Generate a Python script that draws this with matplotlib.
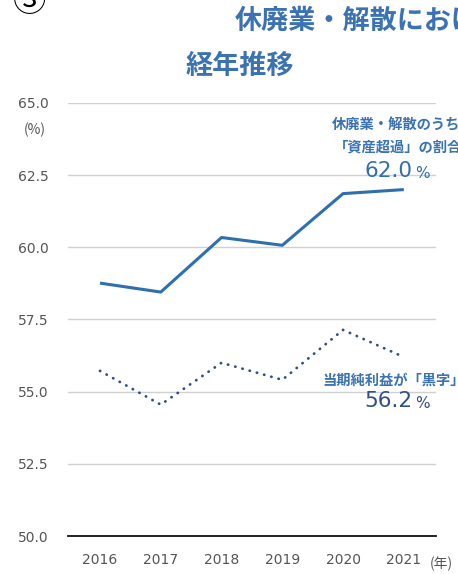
import matplotlib
matplotlib.use("Agg")
from matplotlib import pyplot as plt

plt.rcParams['font.family'] = ['Noto Sans CJK JP', 'DejaVu Sans']

years = [2016, 2017, 2018, 2019, 2020, 2021]
asset_surplus = [58.76, 58.45, 60.34, 60.07, 61.86, 62.0]
profit_black = [55.72, 54.55, 56.0, 55.41, 57.14, 56.2]
yticks = [50.0, 52.5, 55.0, 57.5, 60.0, 62.5, 65.0]

blue = '#2e6fb0'
navy = '#2f4f8a'
label_blue = '#3a72b4'

fig = plt.figure(figsize=(4.58, 5.74), dpi=100)
ax = fig.add_axes([0.148, 0.0662, 0.804, 0.7544])

ax.plot(years, asset_surplus, color=blue, lw=2.2, solid_capstyle='butt')
ax.plot(years, profit_black, color=navy, lw=2.0, linestyle=(0, (0.1, 2.6)),
        dash_capstyle='round')

ax.set_ylim(50, 65)
ax.set_xlim(2015.47, 2021.53)
ax.set_yticks(yticks)
ax.set_yticklabels([f'{v:.1f}' for v in yticks])
ax.set_xticks(years)
ax.set_xticklabels([str(y) for y in years])
ax.grid(axis='y', color='#d0d0d0', lw=1)
ax.set_axisbelow(True)
for s in ['top', 'right', 'left']:
    ax.spines[s].set_visible(False)
ax.spines['bottom'].set_color('#111111')
ax.spines['bottom'].set_linewidth(1.3)
ax.tick_params(length=0, labelsize=10, colors='#555555')
ax.tick_params(axis='y', pad=14)
ax.tick_params(axis='x', pad=12)
for t in ax.get_xticklabels() + ax.get_yticklabels():
    t.set_family('DejaVu Sans')

# titles (cut off at the right edge, as in the original)
fig.text(235 / 458, 1 - 20 / 574, '休廃業・解散における「資産超過」', color=label_blue,
         fontsize=19.5, fontweight='bold', va='center', ha='left')
fig.text(186 / 458, 1 - 66 / 574, '経年推移', color=label_blue,
         fontsize=19.5, fontweight='bold', va='center', ha='left')
fig.text(30 / 458, 1 - 2 / 574, '③', color='black', fontsize=24,
         va='center', ha='center')

fig.text(35 / 458, 1 - 130 / 574, '(%)', color='#555555', fontsize=10,
         ha='center', va='center')
fig.text(441 / 458, 1 - 564 / 574, '(年)', color='#555555', fontsize=10,
         ha='center', va='center')

# annotations
fig.text(332 / 458, 1 - 125 / 574, '休廃業・解散のうち', color=label_blue,
         fontsize=10.3, fontweight='bold', va='center', ha='left')
fig.text(334 / 458, 1 - 148 / 574, '「資産超過」の割合', color=label_blue,
         fontsize=10.3, fontweight='bold', va='center', ha='left')
fig.text(364 / 458, 1 - 171 / 574, f'{asset_surplus[-1]:.1f}', color=blue,
         fontsize=15.5, va='center', ha='left', family='DejaVu Sans')
fig.text(415 / 458, 1 - 173 / 574, '%', color=blue,
         fontsize=11, va='center', ha='left', family='DejaVu Sans')

fig.text(322 / 458, 1 - 381 / 574, '当期純利益が「黒字」', color=label_blue,
         fontsize=10.3, fontweight='bold', va='center', ha='left')
fig.text(364 / 458, 1 - 401 / 574, f'{profit_black[-1]:.1f}', color=navy,
         fontsize=15.5, va='center', ha='left', family='DejaVu Sans')
fig.text(415 / 458, 1 - 403 / 574, '%', color=navy,
         fontsize=11, va='center', ha='left', family='DejaVu Sans')

fig.savefig('out.png', dpi=100)
